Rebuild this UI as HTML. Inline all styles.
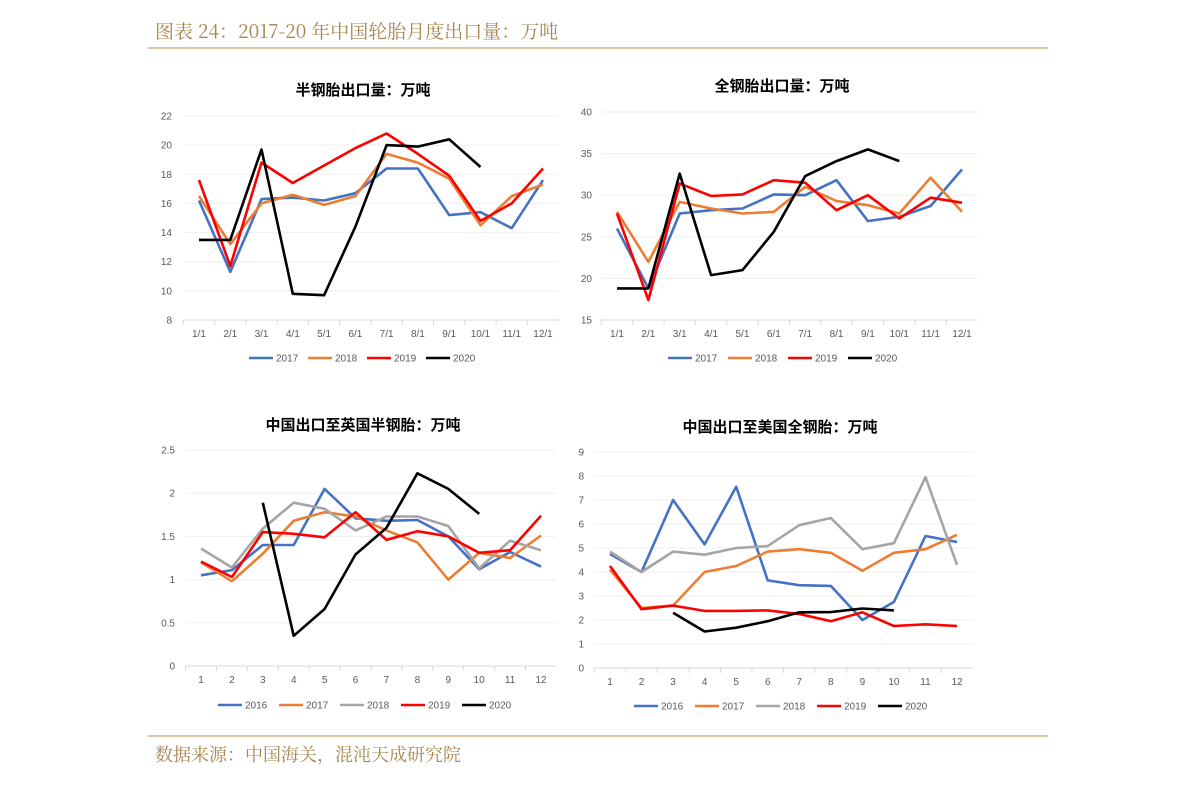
<!DOCTYPE html>
<html><head><meta charset="utf-8"><style>
body{margin:0;background:#fff;width:1191px;height:785px;overflow:hidden}
svg{display:block;font-family:"Liberation Sans","Noto Sans CJK SC",sans-serif}
</style></head><body>
<svg id="s" width="1191" height="785">
<text x="155" y="38" font-size="19" fill="#a8844e" font-family="Noto Serif CJK SC, serif">图表 24：2017-20 年中国轮胎月度出口量：万吨</text>
<line x1="148" y1="48" x2="1048" y2="48" stroke="#c9a56e" stroke-width="1.2"/>
<line x1="148" y1="736" x2="1048" y2="736" stroke="#c9a56e" stroke-width="1.2"/>
<text x="155" y="761" font-size="18" fill="#a8844e" font-family="Noto Serif CJK SC, serif">数据来源：中国海关，混沌天成研究院</text>
</svg>
<script>
const months1=["1/1","2/1","3/1","4/1","5/1","6/1","7/1","8/1","9/1","10/1","11/1","12/1"];
const months2=["1","2","3","4","5","6","7","8","9","10","11","12"];
const c1Years=["2017","2018","2019","2020"];
const c1S2017=[16.2,11.3,16.3,16.4,16.2,16.7,18.4,18.4,15.2,15.4,14.3,17.6];
const c1S2018=[16.5,13.2,16.0,16.6,15.9,16.5,19.4,18.8,17.7,14.5,16.5,17.3];
const c1S2019=[17.6,11.7,18.8,17.4,18.6,19.8,20.8,19.4,17.9,14.8,16.0,18.4];
const c1S2020=[13.5,13.5,19.7,9.8,9.7,14.4,20.0,19.9,20.4,18.5];
const c1Ticks=[8,10,12,14,16,18,20,22];
const c2S2017=[26,18.8,27.8,28.2,28.4,30.1,30,31.8,26.9,27.4,28.7,33.1];
const c2S2018=[28,22,29.2,28.4,27.8,28,31,29.3,28.8,27.8,32.1,28];
const c2S2019=[27.8,17.4,31.4,29.9,30.1,31.8,31.5,28.2,30,27.2,29.7,29.1];
const c2S2020=[18.8,18.8,32.6,20.4,21,25.6,32.3,34.1,35.5,34.1];
const c2Ticks=[15,20,25,30,35,40];
const c3Years=["2016","2017","2018","2019","2020"];
const c3S2016=[1.05,1.11,1.4,1.4,2.05,1.71,1.68,1.69,1.5,1.12,1.32,1.15];
const c3S2017=[1.2,0.98,1.3,1.68,1.78,1.73,1.57,1.43,1.0,1.31,1.25,1.51];
const c3S2018=[1.36,1.14,1.59,1.89,1.82,1.57,1.73,1.73,1.62,1.13,1.45,1.34];
const c3S2019=[1.21,1.03,1.55,1.53,1.49,1.78,1.46,1.56,1.5,1.31,1.34,1.74];
const c3S2020=[null,null,1.89,0.35,0.66,1.29,1.6,2.23,2.05,1.76];
const c3Ticks=[0,0.5,1,1.5,2,2.5];
const c4S2016=[4.75,4.0,7.0,5.15,7.55,3.65,3.45,3.42,2.0,2.75,5.5,5.25];
const c4S2017=[4.1,2.5,2.6,4.0,4.25,4.85,4.95,4.8,4.05,4.8,4.95,5.55];
const c4S2018=[4.85,4.0,4.85,4.72,5.0,5.08,5.95,6.25,4.95,5.2,7.95,4.3];
const c4S2019=[4.25,2.45,2.6,2.38,2.38,2.4,2.25,1.95,2.32,1.75,1.82,1.75];
const c4S2020=[null,null,2.3,1.52,1.68,1.95,2.32,2.33,2.48,2.4];
const c4Ticks=[0,1,2,3,4,5,6,7,8,9];

const svg=document.getElementById('s');
const NS='http://www.w3.org/2000/svg';
function mk(t,a,p){const e=document.createElementNS(NS,t);for(const k in a)e.setAttribute(k,a[k]);(p||svg).appendChild(e);return e;}
const colMap={"2016":"#4472c4","2017":"#4472c4","2018":"#ed7d31","2019":"#ff0000","2020":"#000000"};

function chart(o){
  const g=mk('g',{});
  
  
  const ymin=o.ticks[0],ymax=o.ticks[o.ticks.length-1];
  const y=v=>o.yb-(v-ymin)/(ymax-ymin)*(o.yb-o.yt);
  const step=(o.xr-o.xl)/(o.cats.length-1);
  const x=i=>o.xl+i*step;
  const t=mk('text',{x:o.tx,y:o.ty,'font-size':15,'font-weight':'bold','text-anchor':'middle',fill:'#000'},g);
  t.textContent=o.title;
  
  
  o.ticks.forEach(v=>{
    const gl=mk('line',{x1:o.xl-step/2,x2:o.xr+step/2,y1:y(v),y2:y(v),stroke:v===ymin?'#d9d9d9':'#efefef','stroke-width':1},g);
    
    
    const tl=mk('text',{x:o.lx,y:y(v)+3.5,'font-size':10,'text-anchor':'end',fill:'#595959'},g);
    tl.textContent=String(v);
    
    
  });
  o.cats.forEach((c,i)=>{
    const tk=mk('line',{x1:x(i)-step/2,x2:x(i)-step/2,y1:o.yb,y2:o.yb+5,stroke:'#d9d9d9'},g);
    
    
    const xl=mk('text',{x:x(i),y:o.yb+17,'font-size':10,'text-anchor':'middle',fill:'#595959'},g);
    xl.textContent=c;
    
    
  });
  o.series.forEach((s,k)=>{
    let d='';let pen=false;
    s.vals.forEach((v,i)=>{if(v==null){pen=false;return;}d+=(pen?'L':'M')+x(i).toFixed(1)+','+y(v).toFixed(1);pen=true;});
    const p=mk('path',{d:d,fill:'none',stroke:s.color,'stroke-width':2.6,'stroke-linejoin':'round'},g);
    
    
    const lx=o.legX+k*o.legStep;
    const ll=mk('line',{x1:lx,x2:lx+24,y1:o.legY,y2:o.legY,stroke:s.color,'stroke-width':2.6},g);
    
    
    const lt=mk('text',{x:lx+27,y:o.legY+3.5,'font-size':10,fill:'#595959'},g);
    lt.textContent=s.label;
    
    
  });
}
chart({name:'chart-semi-steel-exports',title:'半钢胎出口量：万吨',tx:363,ty:95,cats:months1,ticks:c1Ticks,xl:199,xr:543,yt:116,yb:320,lx:172,legX:249,legY:358,legStep:59,
 series:[{label:'2017',vals:c1S2017,color:'#4472c4'},{label:'2018',vals:c1S2018,color:'#ed7d31'},{label:'2019',vals:c1S2019,color:'#ff0000'},{label:'2020',vals:c1S2020,color:'#000'}]});
chart({name:'chart-all-steel-exports',title:'全钢胎出口量：万吨',tx:782,ty:91,cats:months1,ticks:c2Ticks,xl:617,xr:962,yt:112,yb:320,lx:592,legX:668,legY:358,legStep:60,
 series:[{label:'2017',vals:c2S2017,color:'#4472c4'},{label:'2018',vals:c2S2018,color:'#ed7d31'},{label:'2019',vals:c2S2019,color:'#ff0000'},{label:'2020',vals:c2S2020,color:'#000'}]});
chart({name:'chart-uk-semi-steel',title:'中国出口至英国半钢胎：万吨',tx:363,ty:430,cats:months2,ticks:c3Ticks,xl:201,xr:541,yt:450,yb:666,lx:175,legX:218,legY:705,legStep:61,
 series:[{label:'2016',vals:c3S2016,color:'#4472c4'},{label:'2017',vals:c3S2017,color:'#ed7d31'},{label:'2018',vals:c3S2018,color:'#a5a5a5'},{label:'2019',vals:c3S2019,color:'#ff0000'},{label:'2020',vals:c3S2020,color:'#000'}]});
chart({name:'chart-us-all-steel',title:'中国出口至美国全钢胎：万吨',tx:780,ty:432,cats:months2,ticks:c4Ticks,xl:610,xr:957,yt:452,yb:668,lx:584,legX:634,legY:706,legStep:61,
 series:[{label:'2016',vals:c4S2016,color:'#4472c4'},{label:'2017',vals:c4S2017,color:'#ed7d31'},{label:'2018',vals:c4S2018,color:'#a5a5a5'},{label:'2019',vals:c4S2019,color:'#ff0000'},{label:'2020',vals:c4S2020,color:'#000'}]});
</script>
</body></html>
